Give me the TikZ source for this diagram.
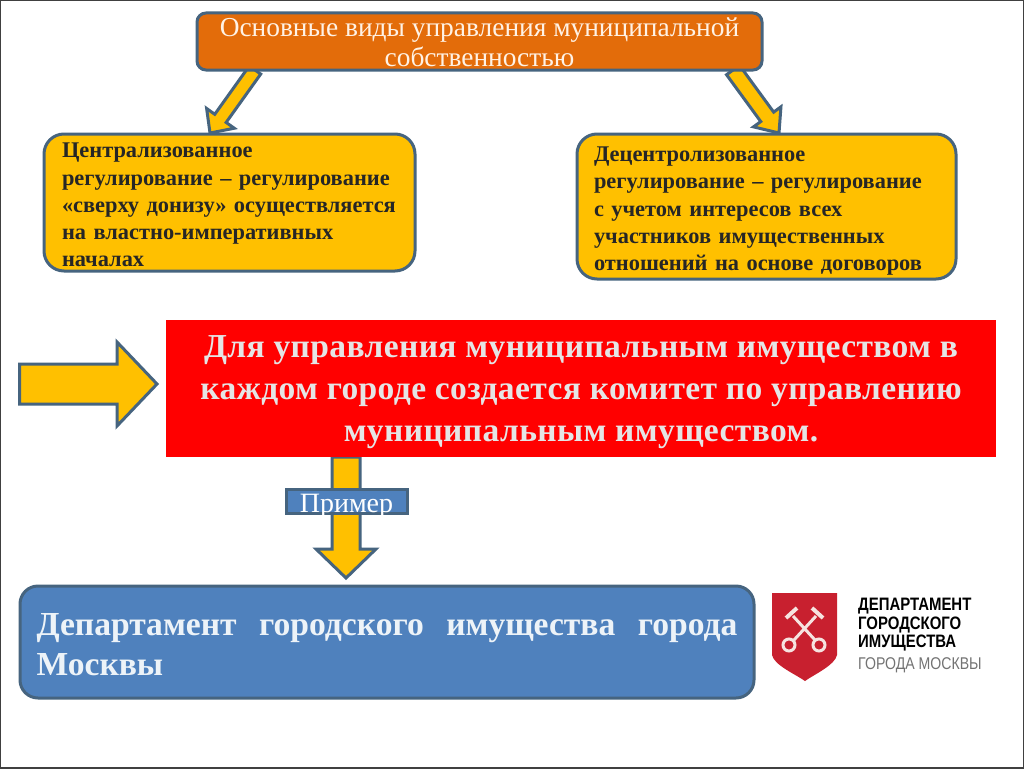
\documentclass[tikz,border=0pt]{standalone}
\usepackage{fontspec}
\setmainfont{Liberation Serif}
\newfontfamily\logofont{Liberation Sans}
\usetikzlibrary{calc}

\definecolor{boxedge}{HTML}{46647F}
\definecolor{orangefill}{HTML}{E36C0A}
\definecolor{goldfill}{HTML}{FFC000}
\definecolor{bluefill}{HTML}{4F81BD}
\definecolor{shieldred}{HTML}{C8202F}
\definecolor{keywhite}{HTML}{F6E3E0}

\newcommand{\topgap}[1]{\rule{0pt}{#1pt}}

\tikzset{
    box/.style={draw=boxedge, line width=3pt, rounded corners=20pt, inner sep=0pt, align=left},
    goldbox/.style={box, fill=goldfill, font=\fontsize{22.4}{27.2}\selectfont\bfseries, text=black!85},
    fatarrow/.style={draw=boxedge, fill=goldfill, line width=3pt, line join=miter},
    logotext/.style={inner sep=0pt, anchor=west, xscale=.83, transform shape, font=\logofont\fontsize{18}{18}\selectfont\bfseries},
    keyline/.style={draw=keywhite, line width=3pt}
}

% from, to, half shaft, half head, head length
\newcommand{\fatarrow}[5]{
    \coordinate (h) at ($(#2)!#5pt!(#1)$);
    \draw[fatarrow] ($(#1)!#3pt!90:(#2)$) -- ($(h)!#3pt!90:(#2)$) -- ($(h)!#4pt!90:(#2)$)
        -- (#2) -- ($(h)!#4pt!-90:(#2)$) -- ($(h)!#3pt!-90:(#2)$) -- ($(#1)!#3pt!-90:(#2)$) -- cycle;
}

\begin{document}
\begin{tikzpicture}[x=1pt,y=-1pt]

\useasboundingbox (0,0) rectangle (1024,768);
\fill[white] (0,0) rectangle (1024,768);
\draw[black!75, line width=2pt] (0,0) rectangle (1024,768);

\coordinate (a0) at (255,70);
\coordinate (a1) at (210,133);
\coordinate (b0) at (733,70);
\coordinate (b1) at (779,133);
\coordinate (c0) at (19.5,384);
\coordinate (c1) at (157,384);
\coordinate (d0) at (346,457);
\coordinate (d1) at (346,578);

% arrows first, boxes lie over their ends
\fatarrow{a0}{a1}{7}{17}{18}
\fatarrow{b0}{b1}{8}{17}{20}
\fatarrow{c0}{c1}{20}{42}{40}
\fatarrow{d0}{d1}{14}{30}{29}

\node[box, rounded corners=9pt, fill=orangefill, minimum width=565pt, minimum height=57pt, align=center,
    text=white!90!orange, font=\fontsize{27.4}{30}\selectfont] (title) at (479.5,41.5)
    {\topgap{21}Основные виды управления муниципальной\\собственностью};

\node[goldbox, minimum width=371pt, minimum height=137pt, text width=335pt] (central) at (229.5,202.5)
    {\topgap{20}Централизованное\\регулирование – регулирование\\«сверху донизу» осуществляется\\на властно-императивных\\началах};

\node[goldbox, minimum width=379pt, minimum height=145pt, text width=345pt] (decentral) at (766.5,206.5)
    {\topgap{24}Децентролизованное\\регулирование – регулирование\\с учетом интересов всех\\участников имущественных\\отношений на основе договоров};

\node[fill=red, minimum width=830pt, minimum height=137pt, inner sep=0pt, align=center,
    text=white!90!black, font=\fontsize{33.5}{42}\selectfont\bfseries\addfontfeature{LetterSpace=1.2}] (committee) at (581,388.5)
    {\topgap{30}Для управления муниципальным имуществом в\\каждом городе создается комитет по управлению\\муниципальным имуществом.};

\node[draw=boxedge, line width=3pt, fill=bluefill, minimum width=121pt, minimum height=24pt, inner sep=0pt,
    text=white, font=\fontsize{28}{28}\selectfont] (example) at (346.5,501) {\raisebox{-11pt}[0pt][0pt]{Пример}};

\node[box, rounded corners=18pt, fill=bluefill, minimum width=734pt, minimum height=112pt, text width=701pt,
    text=white!90!bluefill, font=\fontsize{33.6}{40}\selectfont\bfseries] (moscow) at (387,642)
    {\topgap{28}Департамент\hfill городского\hfill имущества\hfill города\\Москвы};

% logo
\fill[shieldred] (772,593) -- (837,593) -- (837,655) .. controls (835,665) and (815,674) .. (805,681)
    .. controls (795,674) and (774,665) .. (772,655) -- cycle;
\draw[keyline] (793,616) -- (815,640) (816,616) -- (794,640);
\draw[keyline] (789,645) circle (6pt) (819,645) circle (6pt);
\draw[keyline, line width=4pt] (786,618) -- (797,608) (823,618) -- (812,608);

\node[logotext] (logo1) at (858,606) {ДЕПАРТАМЕНТ};
\node[logotext] (logo2) at (858,625) {ГОРОДСКОГО};
\node[logotext] (logo3) at (858,643) {ИМУЩЕСТВА};
\node[logotext, text=black!55, font=\logofont\fontsize{17}{17}\selectfont] (logo4) at (858,665) {ГОРОДА МОСКВЫ};

\end{tikzpicture}
\end{document}
